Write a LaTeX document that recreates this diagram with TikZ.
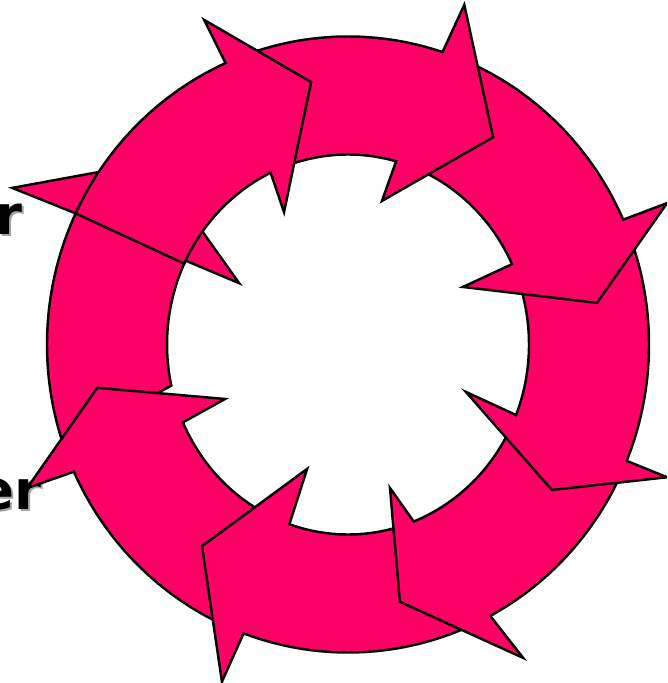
\documentclass[tikz,border=0pt]{standalone}
\usepackage{fontspec}
\newfontfamily\labelfont{DejaVu Sans}
\definecolor{ringpink}{RGB}{255,0,102}

\begin{document}
\begin{tikzpicture}[
    cyclearrow/.style={fill=ringpink, draw=black, line width=1.4pt},
    labeltext/.style={font=\labelfont\bfseries\fontsize{31}{36}\selectfont, inner sep=0pt, anchor=base east},
    labelshadow/.style={labeltext, text=black!35}]
    \useasboundingbox (0,0) rectangle (13.34,13.66);
    \clip (0,0) rectangle (13.34,13.66);

    \node[labelshadow] (lblTopShadow) at (0.50,8.92) {r};
    \node[labeltext] (lblTop) at (0.46,8.96) {r};
    \node[labelshadow] (lblBottomShadow) at (0.88,3.42) {er};
    \node[labeltext] (lblBottom) at (0.84,3.46) {er};

    \begin{scope}[shift={(6.96,6.77)}]
    \def\Rx{6.02}
    \def\Ry{6.16}
    \def\rx{3.62}
    \def\ry{3.80}

    \draw[cyclearrow] (199:{\Rx} and {\Ry}) arc[start angle=199, end angle=154.8, x radius=\Rx, y radius=\Ry]
        -- (155.0:7.41) -- (136.9:5.34) -- (150.6:2.50)
        -- (153.8:{\rx} and {\ry}) arc[start angle=153.8, end angle=192.5, x radius=\rx, y radius=\ry] -- cycle;

    \draw[cyclearrow] (-114:{\Rx} and {\Ry}) arc[start angle=-114, end angle=-155.6, x radius=\Rx, y radius=\Ry]
        -- (-155.9:7.03) -- (-170.2:5.09) -- (-156.1:2.69)
        -- (-155.8:{\rx} and {\ry}) arc[start angle=-155.8, end angle=-114, x radius=\rx, y radius=\ry] -- cycle;

    \draw[cyclearrow] (-66:{\Rx} and {\Ry}) arc[start angle=-66, end angle=-110.3, x radius=\Rx, y radius=\Ry]
        -- (-110.5:7.20) -- (-125.9:4.98) -- (-108.2:2.62)
        -- (-108.9:{\rx} and {\ry}) arc[start angle=-108.9, end angle=-72, x radius=\rx, y radius=\ry] -- cycle;

    \draw[cyclearrow] (-26:{\Rx} and {\Ry}) arc[start angle=-26, end angle=-61.8, x radius=\Rx, y radius=\Ry]
        -- (-60.8:7.18) -- (-78.6:5.25) -- (-73.7:2.99)
        -- (-68.7:{\rx} and {\ry}) arc[start angle=-68.7, end angle=-26, x radius=\rx, y radius=\ry] -- cycle;

    \draw[cyclearrow] (20:{\Rx} and {\Ry}) arc[start angle=20, end angle=-22.2, x radius=\Rx, y radius=\Ry]
        -- (-22.6:6.91) -- (-35.5:5.01) -- (-21.9:2.54)
        -- (-21.8:{\rx} and {\ry}) arc[start angle=-21.8, end angle=20, x radius=\rx, y radius=\ry] -- cycle;

    \draw[cyclearrow] (68:{\Rx} and {\Ry}) arc[start angle=68, end angle=23.9, x radius=\Rx, y radius=\Ry]
        -- (23.9:6.98) -- (9.5:5.05) -- (26.6:2.57)
        -- (25.0:{\rx} and {\ry}) arc[start angle=25.0, end angle=68, x radius=\rx, y radius=\ry] -- cycle;

    \draw[cyclearrow] (110:{\Rx} and {\Ry}) arc[start angle=110, end angle=71.7, x radius=\Rx, y radius=\Ry]
        -- (71.1:7.18) -- (55.0:5.06) -- (76.7:2.95)
        -- (74.6:{\rx} and {\ry}) arc[start angle=74.6, end angle=110, x radius=\rx, y radius=\ry] -- cycle;

    \draw[cyclearrow] (154.8:{\Rx} and {\Ry}) arc[start angle=154.8, end angle=114, x radius=\Rx, y radius=\Ry]
        -- (113.9:7.10) -- (98.0:5.30) -- (115.8:2.94)
        -- (115.3:{\rx} and {\ry}) arc[start angle=115.3, end angle=154.8, x radius=\rx, y radius=\ry] -- cycle;
    \end{scope}
\end{tikzpicture}
\end{document}
